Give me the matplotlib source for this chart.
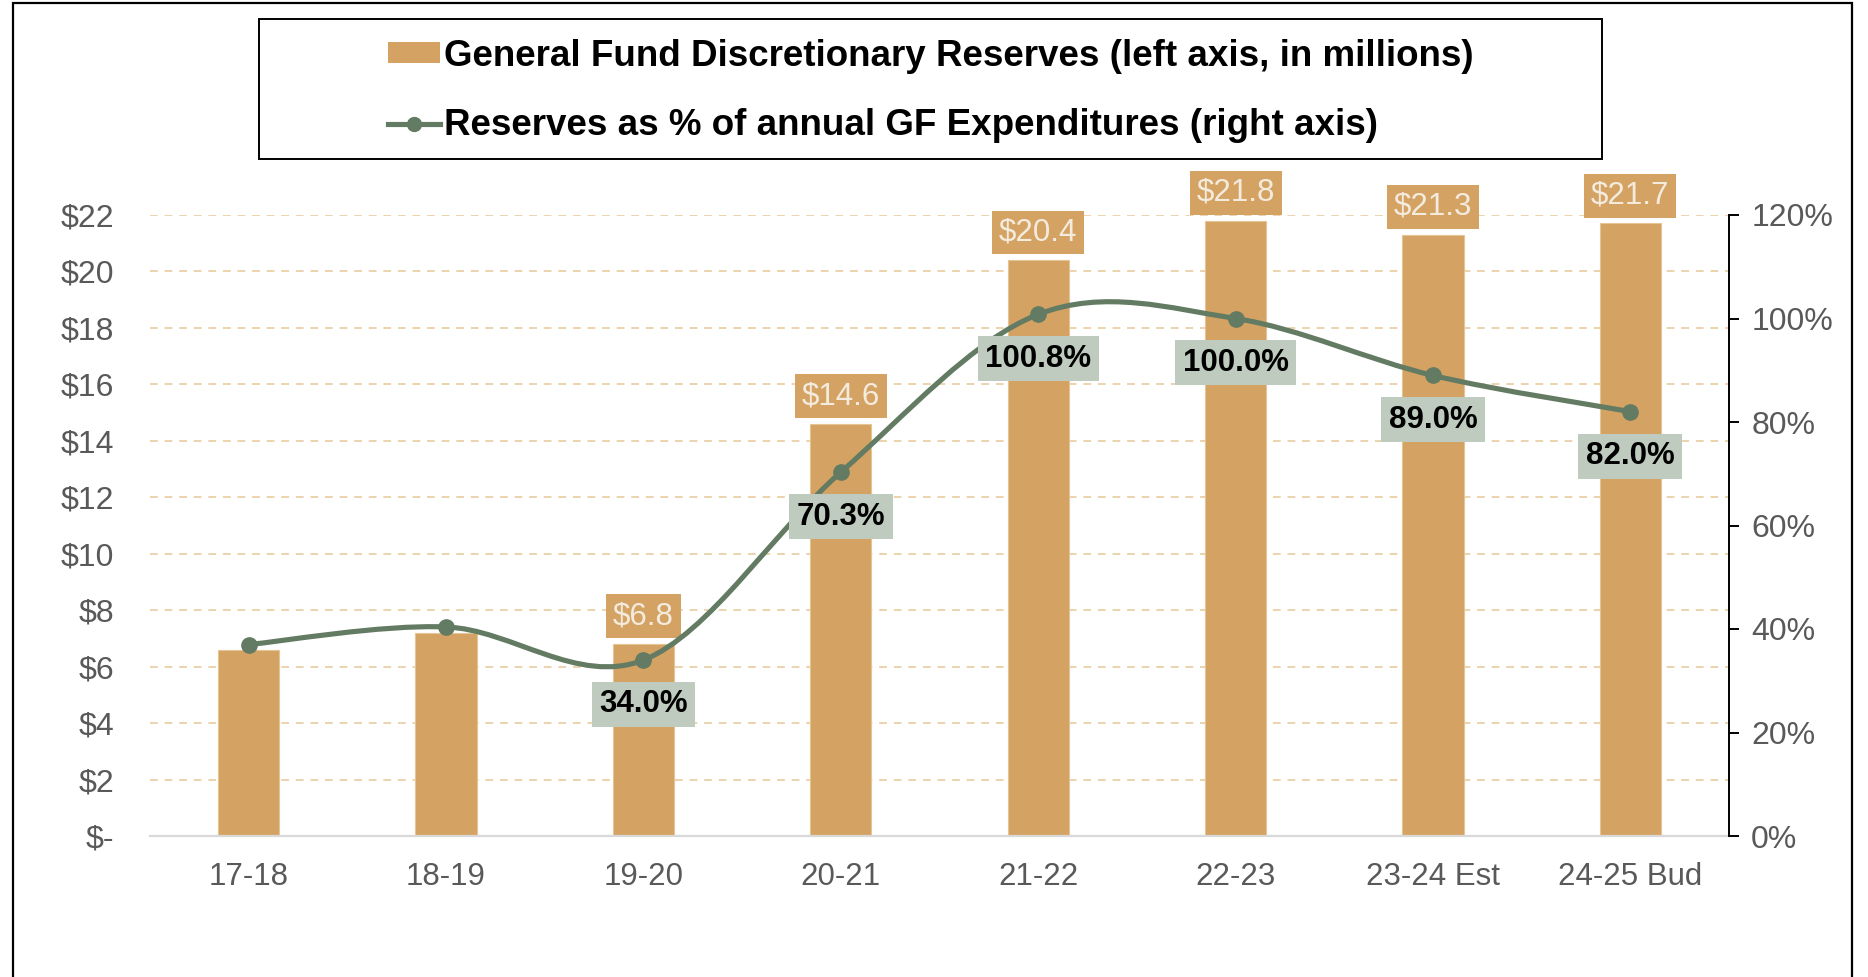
import matplotlib
matplotlib.use("Agg")
import matplotlib.pyplot as plt
from matplotlib.patches import Rectangle, Patch, PathPatch
from matplotlib.lines import Line2D
from matplotlib.path import Path
from matplotlib.ticker import FuncFormatter, PercentFormatter
import numpy as np

plt.rcParams['font.family'] = ['Liberation Sans', 'DejaVu Sans']

# data
anos = ["17-18", "18-19", "19-20", "20-21", "21-22", "22-23", "23-24 Est", "24-25 Bud"]
reservas = [6.6, 7.2, 6.8, 14.6, 20.4, 21.8, 21.3, 21.7]
pct_gastos = [37.0, 40.4, 34.0, 70.3, 100.8, 100.0, 89.0, 82.0]
mostra_rotulo_barra = [False, False, True, True, True, True, True, True]
mostra_rotulo_pct = [False, False, True, True, True, True, True, True]

cor_barra = "#D4A363"
cor_linha = "#627B62"
cor_caixa_pct = "#BFCBBF"
cor_texto_barra = "#F4EBDF"
cor_eixo = "#595959"

fig = plt.figure(figsize=(18.68, 9.77), dpi=100)
ax1 = fig.add_axes([150/1868, 1-836/977, (1729-150)/1868, (836-215)/977])
ax2 = ax1.twinx()

x = np.arange(len(anos))

# grade tracejada
for g in range(2, 23, 2):
    ax1.axhline(g, color="#EDD3AF", lw=1.4, ls=(0, (4, 3.5)), zorder=0)

ax1.bar(x, reservas, width=0.31, color=cor_barra, edgecolor="#E6C595", linewidth=0.8, zorder=2)

for xi, v, mostra in zip(x, reservas, mostra_rotulo_barra):
    if mostra:
        ax1.annotate(f"${v:.1f}", (xi, v), xytext=(0, 20), textcoords="offset points",
                     ha="center", va="center", fontsize=22.5, color=cor_texto_barra, zorder=5,
                     bbox=dict(boxstyle="square,pad=0.22", fc=cor_barra, ec="none"))

ax1.set_xlim(-0.5, len(anos) - 0.5)
ax1.set_ylim(0, 22)
ax1.set_yticks(range(0, 23, 2))
ax1.yaxis.set_major_formatter(FuncFormatter(lambda v, p: "$-" if v == 0 else f"${v:.0f}"))
ax1.set_xticks(x)
ax1.set_xticklabels(anos)
ax1.tick_params(axis="y", length=0, labelsize=23, labelcolor=cor_eixo, pad=26)
ax1.tick_params(axis="x", length=0, labelsize=22.5, labelcolor=cor_eixo, pad=19)
for s in ["left", "top", "right"]:
    ax1.spines[s].set_visible(False)
ax1.spines["bottom"].set_color("#D9D9D9")
ax1.spines["bottom"].set_linewidth(1.6)

# linha suavizada (estilo excel, catmull-rom)
pts = np.column_stack([x, pct_gastos]).astype(float)
ext = np.vstack([pts[0], pts, pts[-1]])
verts = [tuple(pts[0])]
codes = [Path.MOVETO]
for i in range(len(pts) - 1):
    p0, p1, p2, p3 = ext[i], ext[i+1], ext[i+2], ext[i+3]
    c1 = p1 + (p2 - p0) / 6
    c2 = p2 - (p3 - p1) / 6
    verts += [tuple(c1), tuple(c2), tuple(p2)]
    codes += [Path.CURVE4] * 3
ax2.add_patch(PathPatch(Path(verts, codes), fc="none", ec=cor_linha, lw=3.7, zorder=3, capstyle="round"))
ax2.plot(x, pct_gastos, ls="none", marker="o", ms=11, color=cor_linha, zorder=4)

for xi, v, mostra in zip(x, pct_gastos, mostra_rotulo_pct):
    if mostra:
        ax2.annotate(f"{v:.1f}%", (xi, v), xytext=(0, -32), textcoords="offset points",
                     ha="center", va="center", fontsize=22.5, fontweight="bold", color="black", zorder=6,
                     bbox=dict(boxstyle="square,pad=0.24", fc=cor_caixa_pct, ec="none"))

ax2.set_ylim(0, 120)
ax2.set_yticks(range(0, 121, 20))
ax2.yaxis.set_major_formatter(PercentFormatter(decimals=0))
ax2.tick_params(axis="y", direction="out", length=7, width=1.4, labelsize=23, labelcolor=cor_eixo, pad=9)
for s in ["left", "top", "bottom"]:
    ax2.spines[s].set_visible(False)
ax2.spines["right"].set_linewidth(1.4)
ax2.spines["right"].set_bounds(0, 120)

# legenda com moldura propria
fig.patches.append(Rectangle((259/1868, 1-159/977), (1602-259)/1868, 140/977, transform=fig.transFigure,
                             fill=False, ec="black", lw=1.4))
handles = [Patch(fc=cor_barra, ec="none"),
           Line2D([], [], color=cor_linha, lw=3.7, marker="o", ms=10)]
nomes = ["General Fund Discretionary Reserves (left axis, in millions)",
         "Reserves as % of annual GF Expenditures (right axis)"]
fig.legend(handles, nomes, loc="center", bbox_to_anchor=(931/1868, 1-91/977), frameon=False,
           prop=dict(size=26.5, weight="bold"), handlelength=1.4, handletextpad=0.12, labelspacing=0.95,
           handleheight=0.5, alignment="left")

# borda externa
fig.patches.append(Rectangle((13/1868, -0.2), (1852-13)/1868, 1.2 - 3/977, transform=fig.transFigure,
                             fill=False, ec="black", lw=1.6))

fig.savefig("out.png", dpi=100)
